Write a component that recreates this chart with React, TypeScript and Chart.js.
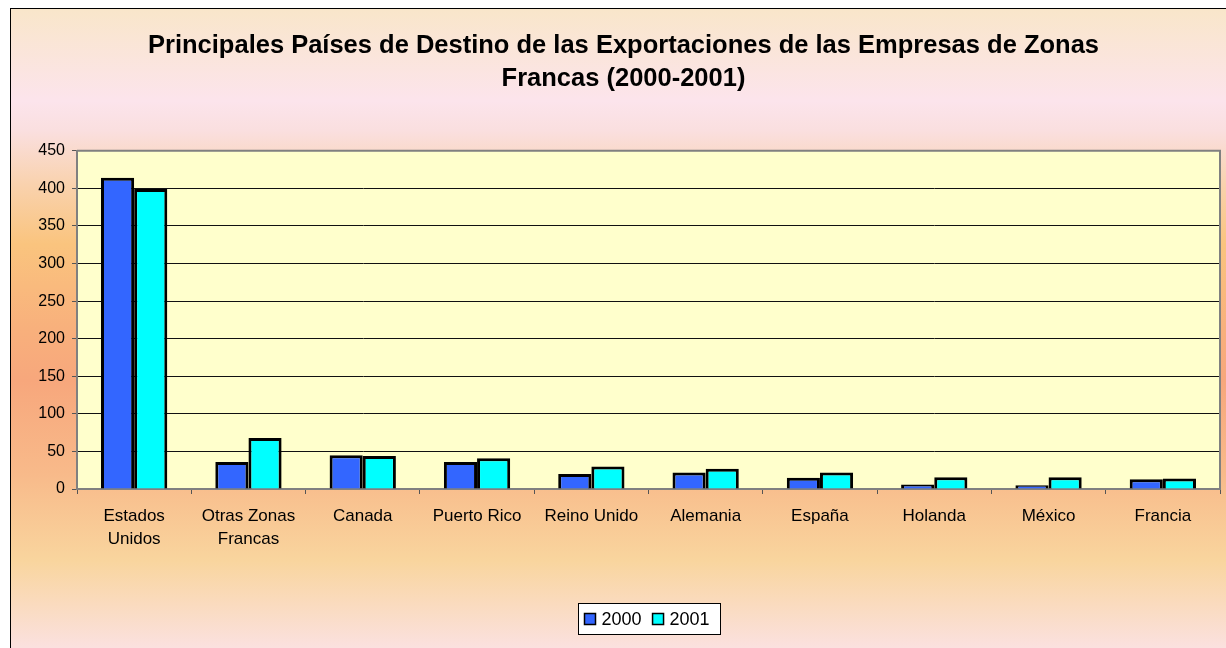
import React, { useEffect, useRef } from "react";
import { Chart, registerables } from "chart.js";

Chart.register(...registerables);

const categories: (string | string[])[] = [
  ["Estados", "Unidos"],
  ["Otras Zonas", "Francas"],
  "Canada",
  "Puerto Rico",
  "Reino Unido",
  "Alemania",
  "España",
  "Holanda",
  "México",
  "Francia",
];
const seriesNames = ["2000", "2001"];
const values2000 = [414, 36, 45, 36, 20, 22, 15, 6, 5, 13];
const values2001 = [399, 68, 44, 41, 30, 27, 22, 15.5, 15.5, 14];
const yMin = 0;
const yMax = 450;
const yStep = 50;
const titleLines = [
  "Principales Países de Destino de las Exportaciones de las Empresas de Zonas",
  "Francas (2000-2001)",
];

const FONT = "'Liberation Sans', Arial, sans-serif";

const plotPlugin = {
  id: "plotDecor",
  beforeDraw(chart: any) {
    const { ctx, chartArea } = chart;
    ctx.save();
    ctx.fillStyle = "#FFFFCC";
    ctx.fillRect(chartArea.left, chartArea.top, chartArea.right - chartArea.left, chartArea.bottom - chartArea.top);
    ctx.restore();
  },
  afterDraw(chart: any) {
    const { ctx, chartArea } = chart;
    ctx.save();
    // top and right border of plot area
    ctx.strokeStyle = "#808080";
    ctx.lineWidth = 2;
    ctx.beginPath();
    ctx.moveTo(chartArea.left, chartArea.top);
    ctx.lineTo(chartArea.right, chartArea.top);
    ctx.lineTo(chartArea.right, chartArea.bottom);
    ctx.stroke();

    // legend
    const fontSize = 18;
    ctx.font = `${fontSize}px ${FONT}`;
    const ds = chart.data.datasets;
    const marker = 11;
    const padL = 6;
    const padR = 11;
    const gapMT = 6;
    const gapItems = 11;
    let total = padL + padR;
    const widths = ds.map((d: any) => ctx.measureText(d.label).width);
    widths.forEach((w: number, i: number) => {
      total += marker + gapMT + w + (i < widths.length - 1 ? gapItems : 0);
    });
    total = Math.round(total);
    const cx = (chartArea.left + chartArea.right) / 2;
    const boxX = Math.round(cx - total / 2) + 0.5;
    const boxY = chart.height - 45 + 0.5;
    const boxH = 31;
    ctx.fillStyle = "#FFFFFF";
    ctx.fillRect(boxX, boxY, total, boxH);
    ctx.strokeStyle = "#000000";
    ctx.lineWidth = 1;
    ctx.strokeRect(boxX, boxY, total, boxH);
    let x = boxX + padL;
    const cy = boxY + boxH / 2;
    ds.forEach((d: any, i: number) => {
      ctx.fillStyle = d.backgroundColor;
      ctx.fillRect(x, cy - marker / 2, marker, marker);
      ctx.strokeStyle = "#000";
      ctx.lineWidth = 1.5;
      ctx.strokeRect(x, cy - marker / 2, marker, marker);
      x += marker + gapMT;
      ctx.fillStyle = "#000";
      ctx.textBaseline = "middle";
      ctx.textAlign = "left";
      ctx.fillText(d.label, x, cy + 1);
      x += widths[i] + gapItems;
    });
    ctx.restore();
  },
};

export default function App() {
  const canvasRef = useRef<HTMLCanvasElement | null>(null);

  useEffect(() => {
    if (!canvasRef.current) return;
    const chart = new Chart(canvasRef.current, {
      type: "bar",
      data: {
        labels: categories,
        datasets: [
          {
            label: seriesNames[0],
            data: values2000,
            backgroundColor: "#3366FF",
            borderColor: "#000000",
            borderWidth: 3,
            barPercentage: 1,
            categoryPercentage: 0.58,
          },
          {
            label: seriesNames[1],
            data: values2001,
            backgroundColor: "#00FFFF",
            borderColor: "#000000",
            borderWidth: 3,
            barPercentage: 1,
            categoryPercentage: 0.58,
          },
        ],
      },
      options: {
        animation: false,
        responsive: false,
        maintainAspectRatio: false,
        devicePixelRatio: 1,
        layout: { padding: { left: 16, right: 6, top: 0, bottom: 99 } },
        plugins: {
          legend: { display: false },
          tooltip: { enabled: false },
          title: {
            display: true,
            text: titleLines,
            color: "#000",
            font: { family: FONT, size: 25.5, weight: "bold", lineHeight: 1.29 },
            padding: { top: 20.5, bottom: 55.5 },
          },
        },
        scales: {
          x: {
            offset: true,
            grid: {
              offset: true,
              drawOnChartArea: false,
              drawTicks: true,
              tickLength: 5,
              color: "#555555",
            },
            border: { display: true, color: "#808080", width: 2 },
            ticks: {
              color: "#000",
              font: { family: FONT, size: 17, lineHeight: 1.35 },
              padding: 11,
              maxRotation: 0,
              autoSkip: false,
            },
            afterFit(scale: any) {
              scale.height = 60;
            },
          },
          y: {
            min: yMin,
            max: yMax,
            grid: {
              color: (c: any) => (c.tick && c.tick.value === yMax ? "rgba(0,0,0,0)" : "#111111"),
              tickColor: "#555555",
              tickLength: 5,
              drawTicks: true,
            },
            border: { display: true, color: "#808080", width: 2 },
            ticks: {
              stepSize: yStep,
              color: "#000",
              font: { family: FONT, size: 16 },
              padding: 7,
            },
            afterFit(scale: any) {
              scale.width = 50;
            },
          },
        },
      },
      plugins: [plotPlugin],
    });
    return () => chart.destroy();
  }, []);

  return (
    <div
      style={{
        position: "fixed",
        left: 0,
        top: 0,
        width: 1226,
        height: 648,
        overflow: "hidden",
        background: "#ffffff",
      }}
    >
      <div
        style={{
          position: "absolute",
          left: 10,
          top: 8,
          width: 1230,
          height: 650,
          borderLeft: "1px solid #000",
          borderTop: "1px solid #000",
          background:
            "linear-gradient(to bottom, #F9E6CA 0px, #FCE4EC 92px, #FADFDF 122px, #F9D2AE 175px, #FAC47E 235px, #F8B07C 320px, #F7A77C 372px, #F8BA8A 465px, #F9D59E 552px, #FBE1E0 640px)",
        }}
      >
        <canvas
          ref={canvasRef}
          width={1215}
          height={639}
          style={{ display: "block", width: 1215, height: 639 }}
        />
      </div>
    </div>
  );
}
